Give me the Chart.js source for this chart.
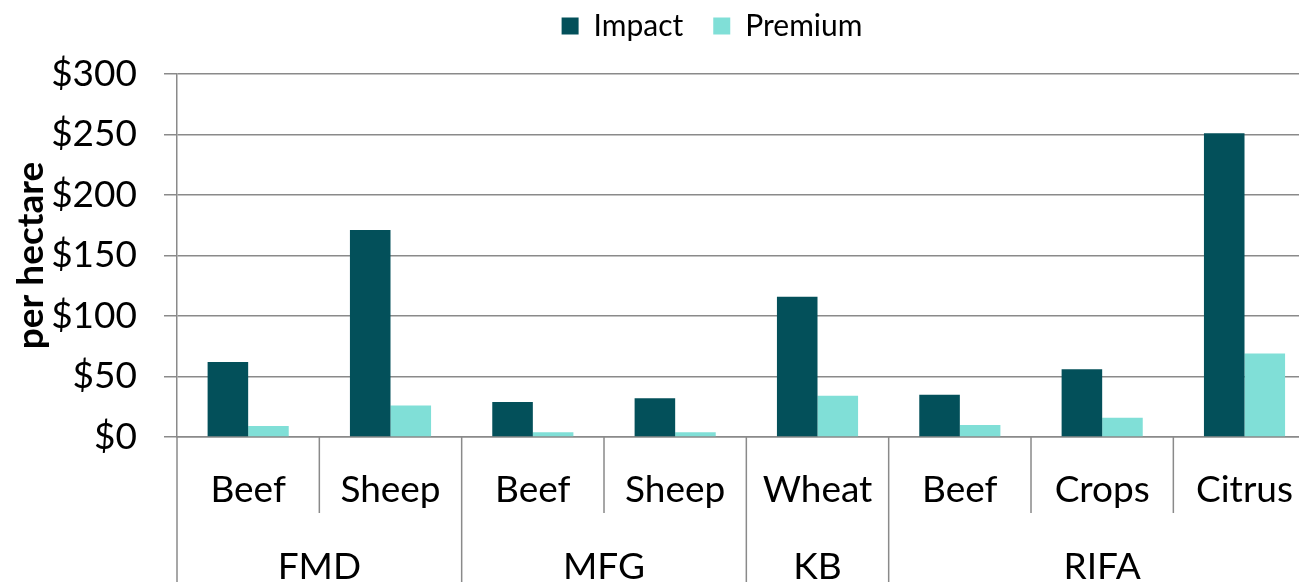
<!DOCTYPE html>
<html>
<head>
<meta charset="utf-8">
<script src="https://cdn.jsdelivr.net/npm/chart.js@4"></script>
<style>
  html, body { margin: 0; padding: 0; overflow: hidden; background: #fff; }
  #wrap { position: absolute; left: 0; top: 0; width: 1316px; height: 582px; }
</style>
</head>
<body>
<div id="wrap"><canvas id="myChart"></canvas></div>
<script>
const categories = ['Beef', 'Sheep', 'Beef', 'Sheep', 'Wheat', 'Beef', 'Crops', 'Citrus'];
const categoryGroups = ['FMD', 'FMD', 'MFG', 'MFG', 'KB', 'RIFA', 'RIFA', 'RIFA'];
const impact = [62, 171, 29, 32, 116, 35, 56, 251];
const premium = [9, 26, 4, 4, 34, 10, 16, 69];
const yTickStep = 50;
const yMax = 300;

const gridGray = '#8a8a8a';
const fontName = 'Lato';

// nudge the legend so it sits where the original one is
const legendShift = {
  id: 'legendShift',
  afterLayout(chart) {
    const lg = chart.legend;
    lg.left += 54; lg.right += 54;
    lg.top -= 23; lg.bottom -= 23;
  }
};

// draws the second level of the category axis + separators
const groupAxis = {
  id: 'groupAxis',
  afterDraw(chart) {
    const ctx = chart.ctx;
    const x = chart.scales.x;
    const area = chart.chartArea;
    const bottom = chart.height;
    const half = (i) => (x.getPixelForTick(i) + x.getPixelForTick(i + 1)) / 2;
    const edge = (i) => {
      if (i < 0) return area.left;
      if (i >= categories.length - 1) return area.right;
      return half(i);
    };

    ctx.save();
    ctx.strokeStyle = gridGray;
    ctx.lineWidth = 1.5;
    ctx.beginPath();
    ctx.moveTo(area.left, area.bottom);
    ctx.lineTo(area.left, bottom);
    for (let i = 0; i < categories.length - 1; i++) {
      const px = half(i);
      const groupEnd = categoryGroups[i] !== categoryGroups[i + 1];
      ctx.moveTo(px, area.bottom);
      ctx.lineTo(px, groupEnd ? bottom : area.bottom + 76);
    }
    ctx.stroke();

    ctx.fillStyle = '#000';
    ctx.font = '37px ' + fontName;
    ctx.textAlign = 'center';
    ctx.textBaseline = 'alphabetic';
    let start = 0;
    for (let i = 0; i < categories.length; i++) {
      if (i === categories.length - 1 || categoryGroups[i] !== categoryGroups[i + 1]) {
        const cx = (edge(start - 1) + edge(i)) / 2;
        ctx.fillText(categoryGroups[i], cx, 579);
        start = i + 1;
      }
    }
    ctx.restore();
  }
};

const ctx = document.getElementById('myChart');

const myChart = new Chart(ctx, {
  type: 'bar',
  data: {
    labels: categories,
    datasets: [
      {
        label: 'Impact',
        data: impact,
        backgroundColor: '#03505a',
        categoryPercentage: 0.57,
        barPercentage: 1,
      },
      {
        label: 'Premium',
        data: premium,
        backgroundColor: '#80dfd7',
        categoryPercentage: 0.57,
        barPercentage: 1,
      },
    ]
  },
  options: {
    responsive: true,
    maintainAspectRatio: false,
    animation: false,
    layout: {
      padding: { left: 0, right: 0, top: 4, bottom: 0 }
    },
    plugins: {
      legend: {
        position: 'top',
        labels: {
          color: '#000',
          font: { family: fontName, size: 30 },
          boxWidth: 17,
          boxHeight: 17,
          padding: 30,
        }
      },
      tooltip: { enabled: false }
    },
    scales: {
      x: {
        grid: { display: false },
        border: { display: true, color: gridGray, width: 1.5 },
        ticks: {
          color: '#000',
          font: { family: fontName, size: 37 },
          padding: 23,
          maxRotation: 0,
        },
        afterFit(scale) { scale.height = 145; }
      },
      y: {
        min: 0,
        max: yMax,
        ticks: {
          stepSize: yTickStep,
          color: '#000',
          font: { family: fontName, size: 37 },
          padding: 27,
          callback: (v) => '$' + v,
        },
        grid: { color: gridGray, lineWidth: 1.5, tickLength: 13 },
        border: { color: gridGray, width: 1.5 },
        title: {
          display: true,
          text: 'per hectare',
          color: '#000',
          font: { family: fontName, size: 37, weight: 'bold' },
          padding: { top: 9, bottom: 0 },
        },
        afterFit(scale) { scale.width = 177; }
      }
    }
  },
  plugins: [groupAxis, legendShift]
});
</script>
</body>
</html>
